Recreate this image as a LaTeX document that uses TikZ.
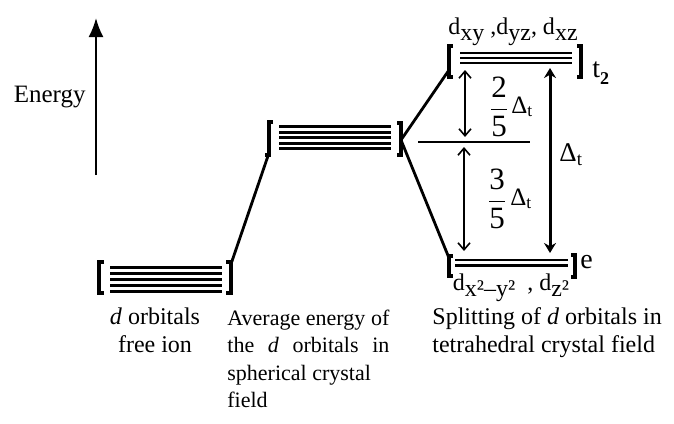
\documentclass[tikz,border=0pt]{standalone}
\usepackage{amsmath}
\usepackage{fontspec}
\setmainfont{Liberation Serif}
\usetikzlibrary{arrows.meta}

\newcommand{\lowsub}[1]{\raisebox{-0.55ex}{#1}}

\begin{document}
\begin{tikzpicture}[x=0.5pt, y=-0.5pt,
    level/.style={line width=1.5pt},
    brack/.style={line width=1.8pt},
    conn/.style={line width=1.4pt},
    gap/.style={line width=0.8pt, {Straight Barb[length=3.5pt,width=6pt]}-{Straight Barb[length=3.5pt,width=6pt]}},
    caption/.style={font=\fontsize{12}{13.8}\selectfont, inner sep=0pt}]
        \useasboundingbox (0,0) rectangle (674,423);

        % Energy axis
        \draw[line width=1pt, -{Latex[length=9.5pt,width=7.5pt]}] (96,175) -- (96,18);
        \node[anchor=east, inner sep=0pt, font=\fontsize{12.5}{14}\selectfont] (energy) at (86,97) {Energy};

        % Free ion: five degenerate levels
        \foreach \y in {267.5,273.5,279.5,285.5,291.5}
            \draw[level] (110,\y) -- (222,\y);
        \draw[brack] (104,262) -- (99,262) -- (99,293) -- (104,293);
        \draw[brack] (226,262) -- (231,262) -- (231,293) -- (226,293);

        % Spherical field: five raised levels
        \foreach \y in {126.5,132,137.5,143,148.5}
            \draw[level] (279,\y) -- (391,\y);
        \draw[brack] (273,122) -- (269,122) -- (269,155) -- (265,155);
        \draw[brack] (397,123) -- (401,123) -- (401,155) -- (397,155);

        % Tetrahedral field: t2 and e sets
        \foreach \y in {53,58,63}
            \draw[line width=1.3pt] (460,\y) -- (572,\y);
        \draw[brack] (453,46) -- (449,46) -- (449,77) -- (453,77);
        \draw[brack] (577,46) -- (581,46) -- (581,77) -- (577,77);
        \foreach \y in {260,265.5}
            \draw[line width=1.3pt] (455,\y) -- (568,\y);
        \draw[brack] (453,256) -- (449,256) -- (449,276) -- (453,276);
        \draw[brack] (571,255) -- (575,255) -- (575,277) -- (571,277);

        % Barycentre
        \draw[line width=1.2pt] (418,142) -- (530,142);

        % Connector ends
        \coordinate (free-r) at (231,264);
        \coordinate (avg-l) at (269,153);
        \coordinate (avg-r) at (401,140);
        \coordinate (t2-l) at (449,70);
        \coordinate (e-l) at (449,258);
        \draw[conn] (free-r) -- (avg-l);
        \draw[conn] (avg-r) -- (t2-l);
        \draw[conn] (avg-r) -- (e-l);

        % Gaps
        \coordinate (t2-bot) at (465,70);
        \coordinate (bary-up) at (465,137);
        \coordinate (bary-dn) at (464,147);
        \coordinate (e-top) at (464,251);
        \coordinate (t2-big) at (550,68);
        \coordinate (e-big) at (550,253);
        \draw[gap] (t2-bot) -- (bary-up);
        \draw[gap] (bary-dn) -- (e-top);
        \draw[line width=1.5pt, {Stealth[length=5pt,width=6pt]}-{Stealth[length=5pt,width=6pt]}] (t2-big) -- (e-big);

        % Labels
        \node[anchor=base, inner sep=0pt, font=\fontsize{12}{14}\selectfont] (t2-orb) at (513,34) {d\lowsub{xy} ,d\lowsub{yz}, d\lowsub{xz}};
        \node[anchor=base west, inner sep=0pt, font=\fontsize{14}{14}\selectfont] (t2-name) at (592,77) {t\lowsub{\fontsize{9}{10}\selectfont\bfseries 2}};
        \node[anchor=base west, inner sep=0pt, font=\fontsize{14}{14}\selectfont] (e-name) at (580,268) {e};
        \node[anchor=base, inner sep=0pt, font=\fontsize{12}{14}\selectfont] (e-orb) at (511,290) {d\lowsub{x²–y²}~ , d\lowsub{z²}};
        \node[inner sep=0pt, font=\fontsize{15.5}{16}\selectfont] (frac-up) at (499,107) {$\dfrac{\text{2}}{\text{5}}$};
        \node[anchor=west, inner sep=0pt, font=\fontsize{12.5}{13}\selectfont] (dt-up) at (511,107) {Δ\textsubscript{t}};
        \node[inner sep=0pt, font=\fontsize{15.5}{16}\selectfont] (frac-dn) at (497,199) {$\dfrac{\text{3}}{\text{5}}$};
        \node[anchor=west, inner sep=0pt, font=\fontsize{12.5}{13}\selectfont] (dt-dn) at (510,199) {Δ\textsubscript{t}};
        \node[anchor=west, inner sep=0pt, font=\fontsize{13.5}{14}\selectfont] (dt-big) at (559,155) {Δ\textsubscript{t}};

        % Captions
        \node[caption, anchor=base, align=center] (free-cap) at (155,352) {\textit{d} orbitals\\free ion};
        \node[caption, anchor=base west, text width=81pt, align=justify, font=\fontsize{11}{13.8}\selectfont] (avg-cap) at (227,325) {Average energy of\linebreak the \textit{d} orbitals in\linebreak spherical crystal\\field};
        \node[caption, anchor=base west, align=left] (tet-cap) at (432,352) {Splitting of \textit{d} orbitals in\\tetrahedral crystal field};
\end{tikzpicture}
\end{document}
